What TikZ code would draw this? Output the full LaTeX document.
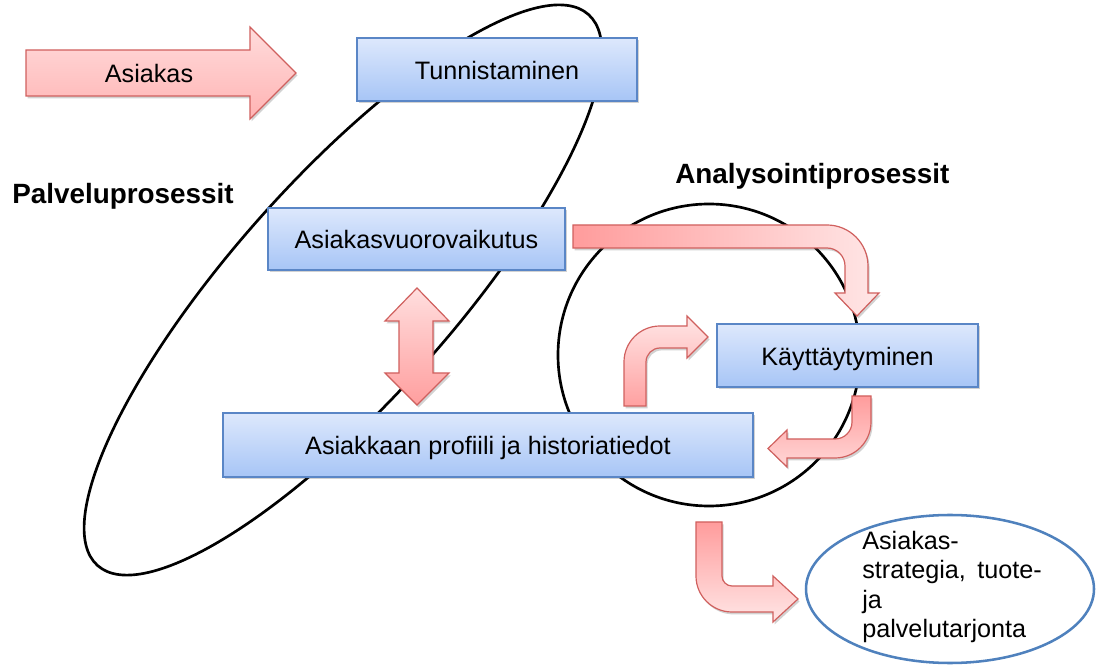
\documentclass[tikz,border=0pt]{standalone}
\usepackage{fontspec}
\setmainfont{Liberation Sans}
\usetikzlibrary{shadows}

\definecolor{boxtop}{HTML}{DDE8FC}
\definecolor{boxbot}{HTML}{A7C5F6}
\definecolor{boxline}{HTML}{5A86C6}
\definecolor{arrline}{HTML}{D0605E}
\definecolor{arrdark}{HTML}{FF9C9C}
\definecolor{arrmid}{HTML}{FFB3B3}
\definecolor{arrlight}{HTML}{FFE6E6}
\definecolor{ovalblue}{HTML}{4F81BD}

\begin{document}
\begin{tikzpicture}[x=0.75pt,y=-0.75pt,
  every node/.style={font=\fontsize{18.9}{22}\selectfont},
  softshadow/.style={drop shadow={shadow xshift=1.2pt, shadow yshift=-1.8pt, opacity=0.25, fill=black!70}},
  box/.style={draw=boxline, line width=1.1pt, top color=boxtop, bottom color=boxbot,
    inner sep=0pt, text height=14.4pt, text depth=0pt, softshadow},
  blockarrow/.style={draw=arrline, line width=0.9pt, line join=miter, softshadow},
  heading/.style={font=\bfseries\fontsize{20.9}{24}\selectfont, anchor=base west, inner sep=0pt},
  ring/.style={draw=black, line width=2pt},
]
\useasboundingbox (0,0) rectangle (1097,666);

% process groups
\draw[ring, shift={(343,290)}, rotate=48.3] (0,0) ellipse [x radius=369, y radius=110];
\draw[ring] (709,355) circle [radius=151];
\draw[draw=ovalblue, line width=1.9pt] (950,589) ellipse [x radius=144, y radius=74];

% headings
\node[heading] (palv) at (12,204) {Palveluprosessit};
\node[heading] (anal) at (675,184) {Analysointiprosessit};

% customer arrow
\path[blockarrow, top color=arrlight!80!arrmid, bottom color=arrmid]
  (26,50) -- (250,50) -- (250,27) -- (296,73) -- (250,119) -- (250,96) -- (26,96) -- cycle;
\node[inner sep=0pt, text height=14.4pt, text depth=0pt] (asiakas) at (149,73) {Asiakas};

% process boxes
\node[box, minimum width=210pt, minimum height=47.25pt] (tun) at (497,69.5) {Tunnistaminen};
\node[box, minimum width=222.75pt, minimum height=46.5pt] (vuo) at (416.5,239) {Asiakasvuorovaikutus};
\node[box, minimum width=397.5pt, minimum height=48pt] (pro) at (488,445) {Asiakkaan profiili ja historiatiedot};
\node[box, minimum width=195.75pt, minimum height=47.25pt] (kay) at (847.5,355.5) {Käyttäytyminen};

% two-way arrow between interaction and profile
\path[blockarrow, top color=arrlight!85!arrmid, bottom color=arrdark!90!arrmid]
  (417,288) -- (449,321) -- (433,321) -- (433,373) -- (449,373) -- (417,405)
  -- (385,373) -- (399,373) -- (399,321) -- (385,321) -- cycle;

% interaction -> behaviour
\path[blockarrow, left color=arrdark, right color=arrlight]
  (573,225) -- (827,225) .. controls (849.6,225) and (868,243.4) .. (868,266)
  -- (868,293) -- (879,293) -- (857,316) -- (835,293) -- (845,293) -- (845,266)
  .. controls (845,256.1) and (836.9,248) .. (827,248) -- (573,248) -- cycle;

% profile -> behaviour
\path[blockarrow, bottom color=arrdark!80!arrmid, top color=arrlight]
  (624,406) -- (624,362) .. controls (624,342.1) and (640.1,326) .. (660,326)
  -- (687,326) -- (687,316) -- (708,337) -- (687,358) -- (687,348) -- (660,348)
  .. controls (652.3,348) and (646,354.3) .. (646,362) -- (646,406) -- cycle;

% behaviour -> profile
\path[blockarrow, top color=arrdark, bottom color=arrlight!70!arrmid]
  (852,396) -- (871,396) -- (871,422) .. controls (871,441.9) and (854.9,458) .. (835,458)
  -- (787,458) -- (787,467) -- (768,448.5) -- (787,430) -- (787,439) -- (835,439)
  .. controls (844.4,439) and (852,431.4) .. (852,422) -- cycle;

% analysis -> strategy
\path[blockarrow, top color=arrdark, bottom color=arrlight]
  (696,522) -- (722,522) -- (722,576) .. controls (722,581.5) and (726.5,586) .. (732,586)
  -- (773,586) -- (773,576) -- (798,599) -- (773,622) -- (773,612) -- (732,612)
  .. controls (712.1,612) and (696,595.9) .. (696,576) -- cycle;

% outcome text
\node[anchor=west, align=left, inner sep=0pt, font=\fontsize{18.9}{22.1}\selectfont] (out) at (862,587)
  {Asiakas-\\strategia,\hspace{0.45em}tuote-\\ja\\palvelutarjonta};
\end{tikzpicture}
\end{document}
